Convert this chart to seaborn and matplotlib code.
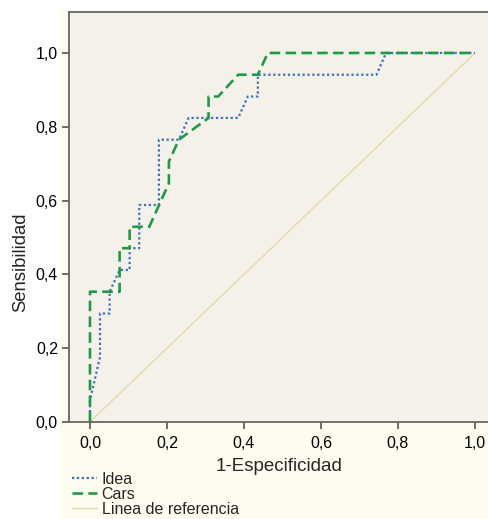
import numpy as np
import pandas as pd
import seaborn as sns
import matplotlib.pyplot as plt
from matplotlib.patches import Rectangle

# ROC curve points
idea_x = [0, 0, 0.026, 0.026, 0.051, 0.051, 0.077, 0.103, 0.103, 0.128, 0.128,
          0.179, 0.179, 0.231, 0.256, 0.385, 0.410, 0.436, 0.436, 0.744, 0.769, 1.0]
idea_y = [0, 0.059, 0.176, 0.294, 0.294, 0.353, 0.412, 0.412, 0.471, 0.471, 0.588,
          0.588, 0.765, 0.765, 0.824, 0.824, 0.882, 0.882, 0.941, 0.941, 1.0, 1.0]

cars_x = [0, 0, 0.077, 0.077, 0.103, 0.103, 0.154, 0.205, 0.205, 0.231, 0.308,
          0.308, 0.333, 0.385, 0.436, 0.462, 1.0]
cars_y = [0, 0.353, 0.353, 0.471, 0.471, 0.529, 0.529, 0.647, 0.706, 0.765, 0.824,
          0.882, 0.882, 0.941, 0.941, 1.0, 1.0]

ref_x = [0, 1]
ref_y = [0, 1]

ticks = [0, 0.2, 0.4, 0.6, 0.8, 1.0]
tick_labels = ["0,0", "0,2", "0,4", "0,6", "0,8", "1,0"]

sns.set_style("ticks")
plt.rcParams['font.family'] = ['Liberation Sans', 'DejaVu Sans']

fig = plt.figure(figsize=(4.89, 5.19), dpi=100, facecolor="white")
# cream panel behind the chart
fig.patches.append(Rectangle((60 / 489, 0), 1 - 60 / 489, 509 / 519,
                             transform=fig.transFigure, facecolor="#fdfcf0",
                             edgecolor="none", zorder=-10))

ax = fig.add_axes([69 / 489, 97 / 519, 1 - 69 / 489, 410 / 519])
ax.set_facecolor("#f4f1ea")

df_idea = pd.DataFrame({"x": idea_x, "y": idea_y})
df_cars = pd.DataFrame({"x": cars_x, "y": cars_y})
df_ref = pd.DataFrame({"x": ref_x, "y": ref_y})

sns.lineplot(data=df_ref, x="x", y="y", sort=False, estimator=None, ax=ax,
             color="#e3d9a6", linewidth=1.0, label="Linea de referencia")
sns.lineplot(data=df_idea, x="x", y="y", sort=False, estimator=None, ax=ax,
             color="#3b6fba", linewidth=1.6, linestyle=(0, (1, 1.2)), label="Idea")
sns.lineplot(data=df_cars, x="x", y="y", sort=False, estimator=None, ax=ax,
             color="#1f9945", linewidth=1.9, linestyle=(0, (4, 2)), label="Cars")

ax.set_xlim(-0.0545, 1.0364)
ax.set_ylim(0, 1.111)
ax.set_xticks(ticks)
ax.set_xticklabels(tick_labels)
ax.set_yticks(ticks)
ax.set_yticklabels(tick_labels)
ax.tick_params(axis="both", labelsize=11.5, color="#555555", length=5, width=1.2,
               labelcolor="black", pad=3)
ax.tick_params(axis="x", pad=5)
ax.set_xlabel("1-Especificidad", fontsize=13.5, labelpad=5)
ax.set_ylabel("Sensibilidad", fontsize=13.3)
ax.yaxis.set_label_coords(-0.095, 0.39)

for side in ["left", "bottom", "top"]:
    ax.spines[side].set_color("#666666")
    ax.spines[side].set_linewidth(1.3)
ax.spines["right"].set_visible(False)

handles, labels = ax.get_legend_handles_labels()
ax.get_legend().remove()
order = [1, 2, 0]
fig.legend([handles[i] for i in order], [labels[i] for i in order],
           loc="upper left", bbox_to_anchor=(72 / 489, 1 - 472 / 519),
           frameon=False, fontsize=11.5, borderpad=0, borderaxespad=0,
           handlelength=1.55, handletextpad=0.3, labelspacing=0.0)

fig.savefig("out.png", dpi=100, facecolor=fig.get_facecolor())
